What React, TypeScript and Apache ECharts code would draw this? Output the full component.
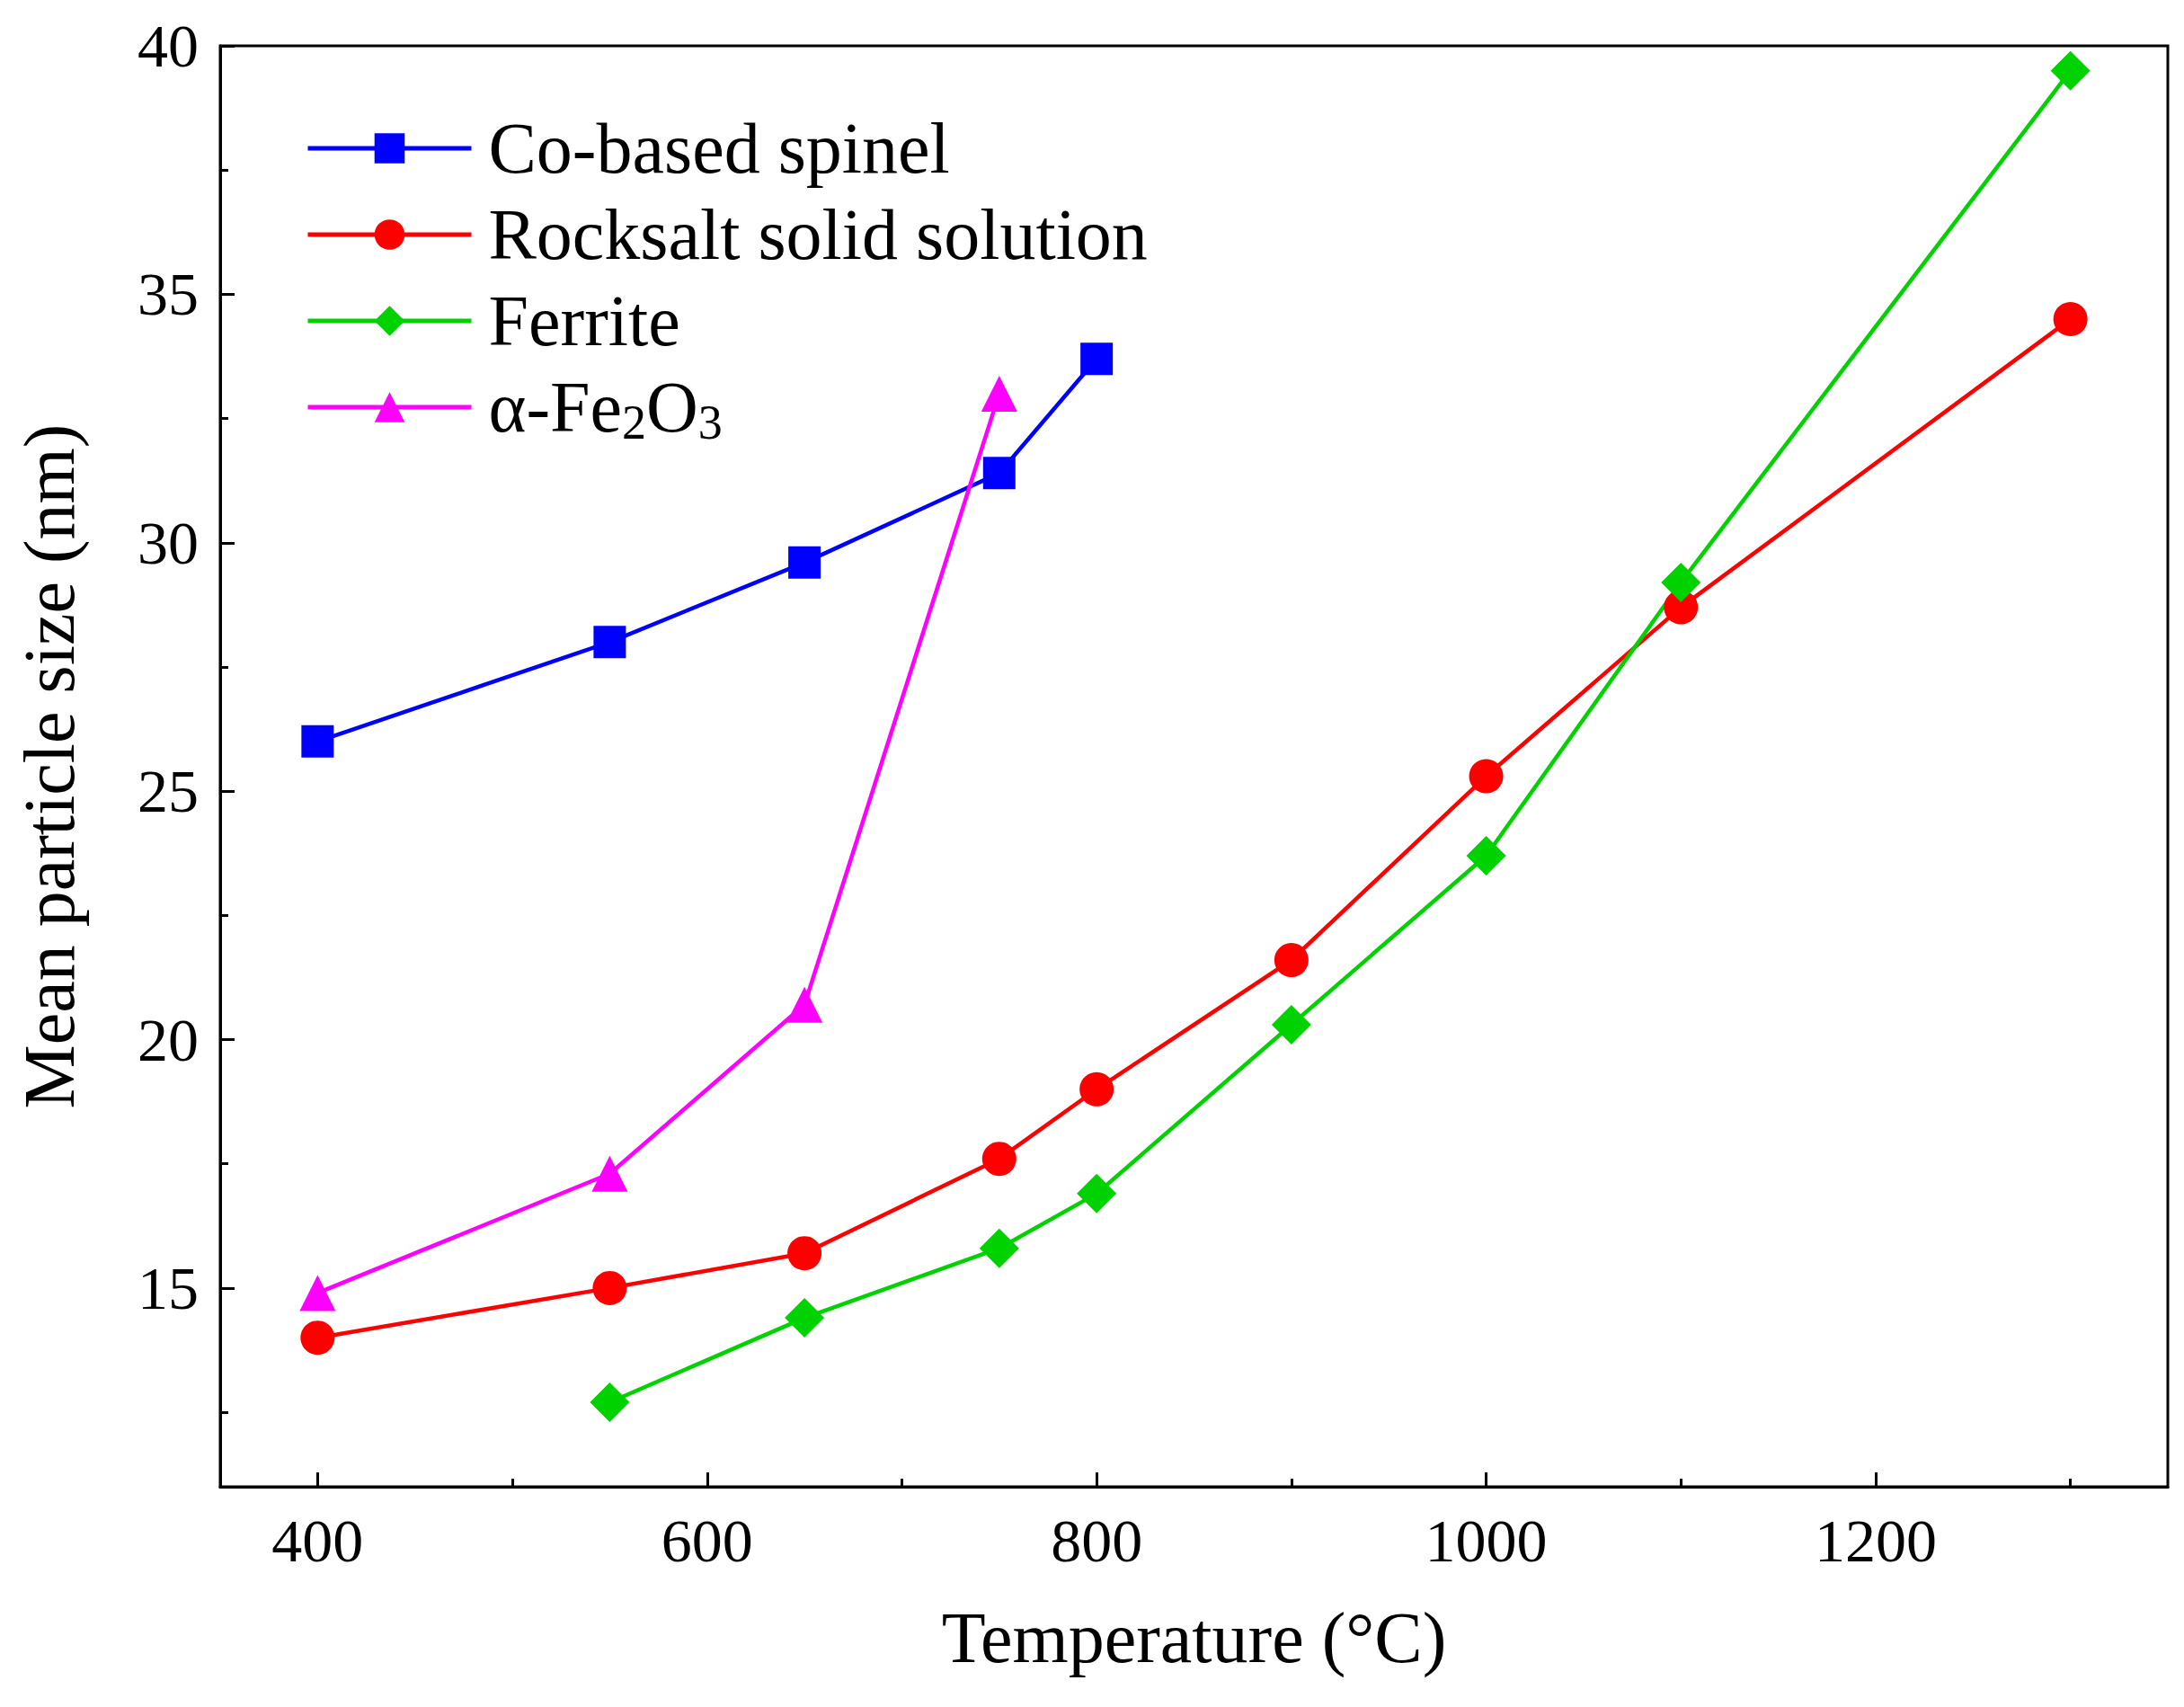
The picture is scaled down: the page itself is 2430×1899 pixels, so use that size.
import React, { useEffect, useRef } from "react";
import * as echarts from "echarts";

const seriesNames = ["Co-based spinel", "Rocksalt solid solution", "Ferrite", "α-Fe2O3"];
const coX = [400, 550, 650, 750, 800];
const coY = [26, 28, 29.6, 31.4, 33.7];
const rockX = [400, 550, 650, 750, 800, 900, 1000, 1100, 1300];
const rockY = [14, 15, 15.7, 17.6, 19, 21.6, 25.3, 28.7, 34.5];
const ferX = [550, 650, 750, 800, 900, 1000, 1100, 1300];
const ferY = [12.7, 14.4, 15.8, 16.9, 20.3, 23.7, 29.2, 39.5];
const feX = [400, 550, 650, 750];
const feY = [14.9, 17.3, 20.7, 33];
const xMajor = [400, 600, 800, 1000, 1200];
const xMinor = [500, 700, 900, 1100, 1300];
const yMajor = [15, 20, 25, 30, 35, 40];
const yMinor = [12.5, 17.5, 22.5, 27.5, 32.5, 37.5];

const FONT = "Liberation Serif";
const zip = (a: number[], b: number[]) => a.map((v, i) => [v, b[i]]);

export default function App() {
  const ref = useRef<HTMLDivElement>(null);
  useEffect(() => {
    const chart = echarts.init(ref.current!, null, { renderer: "svg" });
    const xBase = { type: "value", min: 350, max: 1350, gridIndex: 0 };
    const yBase = { type: "value", min: 11, max: 40, gridIndex: 0 };
    const mk = (name: string, x: number[], y: number[], color: string, symbol: string, size: number) => ({
      name, type: "line", data: zip(x, y), symbol, symbolSize: size,
      lineStyle: { color, width: 4.5 }, itemStyle: { color }, color,
    });
    chart.setOption({
      animation: false,
      backgroundColor: "#fff",
      grid: { left: 245, right: 18, top: 51, bottom: 245, show: true, borderColor: "#000", borderWidth: 3 },
      legend: {
        orient: "vertical", left: 335, top: 120, itemWidth: 182, itemHeight: 42, itemGap: 16,
        lineStyle: { width: 5 },
        textStyle: {
          fontFamily: FONT, fontSize: 80, color: "#000", padding: [0, 0, 0, 14],
          rich: { a: { fontFamily: FONT, fontSize: 80 }, s: { fontFamily: FONT, fontSize: 54, padding: [34, 0, 0, 0] } },
        },
        formatter: (n: string) => n === "α-Fe2O3" ? "{a|α-Fe}{s|2}{a|O}{s|3}" : n,
        data: seriesNames,
      },
      xAxis: [
        {
          ...xBase, name: "Temperature (°C)", nameLocation: "middle", nameGap: 128,
          nameTextStyle: { fontFamily: FONT, fontSize: 80, color: "#000" },
          axisLine: { lineStyle: { color: "#000", width: 3 } },
          axisTick: { inside: true, length: 16, lineStyle: { width: 3, color: "#000" }, customValues: xMajor },
          axisLabel: { fontFamily: FONT, fontSize: 68, color: "#000", margin: 26, customValues: xMajor, formatter: (v: number) => String(v) },
          splitLine: { show: false },
        },
        {
          ...xBase, position: "bottom", axisLine: { show: false },
          axisTick: { inside: true, length: 9, lineStyle: { width: 3, color: "#000" }, customValues: xMinor },
          axisLabel: { show: false }, splitLine: { show: false },
        },
      ],
      yAxis: [
        {
          ...yBase, name: "Mean particle size (nm)", nameLocation: "middle", nameGap: 150,
          nameTextStyle: { fontFamily: FONT, fontSize: 80, color: "#000" },
          axisLine: { show: true, lineStyle: { color: "#000", width: 3 } },
          axisTick: { show: true, inside: true, length: 16, lineStyle: { width: 3, color: "#000" }, customValues: yMajor },
          axisLabel: { fontFamily: FONT, fontSize: 68, color: "#000", margin: 24, customValues: yMajor },
          splitLine: { show: false },
        },
        {
          ...yBase, position: "left", axisLine: { show: false },
          axisTick: { show: true, inside: true, length: 9, lineStyle: { width: 3, color: "#000" }, customValues: yMinor },
          axisLabel: { show: false }, splitLine: { show: false },
        },
      ],
      series: [
        mk(seriesNames[0], coX, coY, "#0000ff", "rect", 36),
        mk(seriesNames[1], rockX, rockY, "#ff0000", "circle", 38),
        mk(seriesNames[2], ferX, ferY, "#00d200", "diamond", 44),
        mk(seriesNames[3], feX, feY, "#ff00ff", "triangle", 40),
      ],
    });
    return () => chart.dispose();
  }, []);
  return <div ref={ref} style={{ position: "absolute", left: 0, top: 0, width: 2430, height: 1899 }} />;
}
